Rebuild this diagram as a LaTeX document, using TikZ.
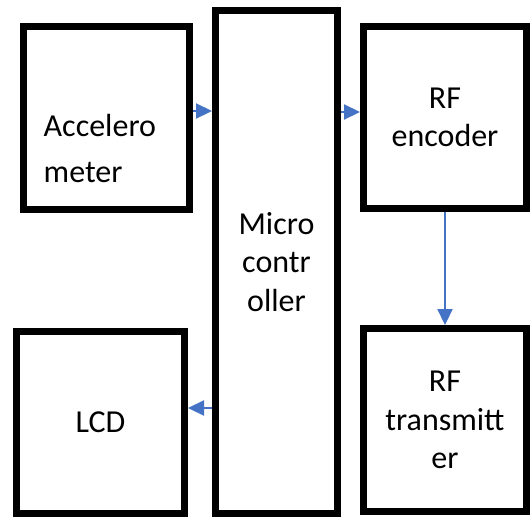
\documentclass[tikz,border=0pt]{standalone}
\usepackage{fontspec}
\setmainfont{Carlito}
\usetikzlibrary{arrows.meta,positioning}
\definecolor{flowblue}{HTML}{4472C4}
\tikzset{
  block/.style={draw=black, line width=7pt, rectangle, align=center,
    font=\fontsize{32}{38.5}\selectfont},
  flow/.style={draw=flowblue, line width=2.2pt, -{Triangle[length=16pt,width=15pt]}}
}
\begin{document}
\begin{tikzpicture}[x=1pt,y=-1pt]
  \useasboundingbox (0,0) rectangle (530,517);

  % the five blocks
  \node[block, minimum width=122pt, minimum height=503pt] (micro) at (276.5,262) {Micro\\contr\\oller};
  \node[block, minimum width=166pt, minimum height=183pt] (acc) at (106.5,118) {};
  \node[block, minimum width=163pt, minimum height=182pt] (enc) at (445,117.5) {RF\\encoder};
  \node[block, minimum width=163pt, minimum height=183pt] (tx) at (445,420) {RF\\transmitt\\er};
  \node[block, minimum width=168pt, minimum height=182pt] (lcd) at (100.5,422.5) {LCD};

  % accelerometer text sits low and left in its box
  \node[anchor=base west, inner sep=0pt, align=left, font=\fontsize{32}{46}\selectfont]
    (acctext) at ([shift={(23.5,64)}]acc.west) {Accelero\\meter};

  % signal flow
  \draw[flow] ([yshift=7pt]acc.east) -- ([yshift=7pt]acc.east -| micro.west);
  \draw[flow] ([yshift=5.5pt]enc.west -| micro.east) -- ([yshift=5.5pt]enc.west);
  \draw[flow] (enc.south) -- (tx.north);
  \draw[flow] ([yshift=14.5pt]lcd.east -| micro.west) -- ([yshift=14.5pt]lcd.east);
\end{tikzpicture}
\end{document}
